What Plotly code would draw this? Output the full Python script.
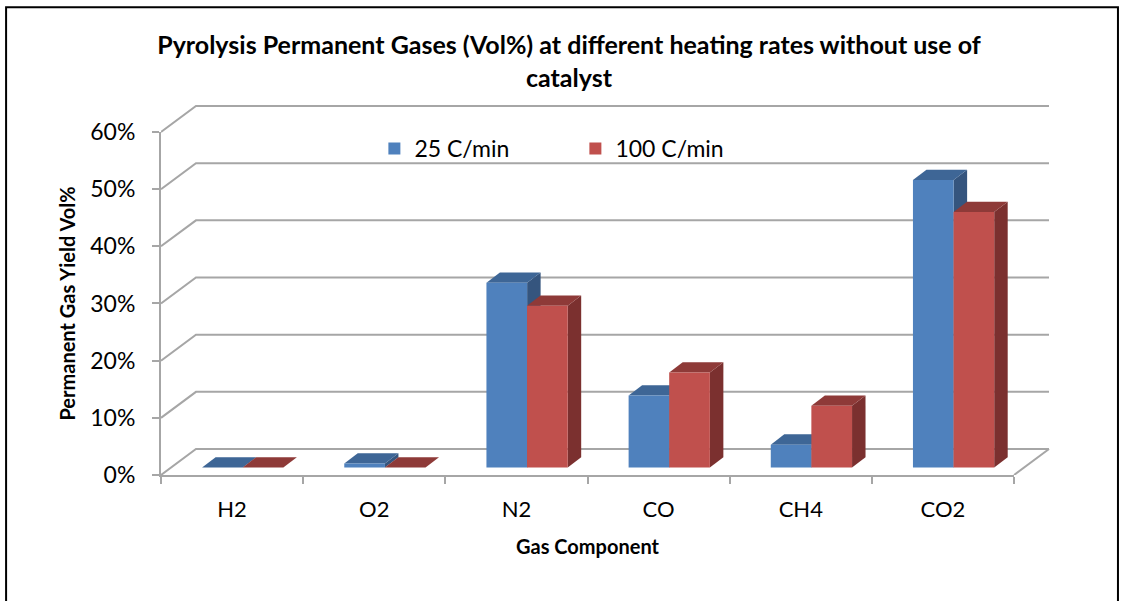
import plotly.graph_objects as go

categories = ["H2", "O2", "N2", "CO", "CH4", "CO2"]
rate_25 = [0.0, 0.007, 0.323, 0.126, 0.040, 0.503]
rate_100 = [0.0, 0.0, 0.283, 0.166, 0.108, 0.447]
y_ticks = [0, 0.1, 0.2, 0.3, 0.4, 0.5, 0.6]

W, H = 1123, 601
L, R, T, B = 160.5, 1014.0, 132.0, 475.5   # front plane of the chart
OUT_R, OUT_T = 1054.0, 101.0               # plot area including the back wall
ux = (R - L) / 6            # pixels per category
uy = (B - T) / 0.6          # pixels per unit of value
bar_w = 40.7 / ux
bar_off = [-30.0 / ux, 10.6 / ux]
lift = 7.5 / uy             # bars stand slightly behind the front plane
bar_dx, bar_dy = 13.5 / ux, 10.3 / uy    # depth of a bar
wall_dx, wall_dy = 35.0 / ux, 26.0 / uy  # depth of the floor

GRID = "#a6a6a6"
FONT = "Lato"
fig = go.Figure()

# back wall and left wall lines, on the wide hidden axes
for t in y_ticks:
    fig.add_trace(go.Scatter(
        x=[-0.5, -0.5 + wall_dx, 5.5 + wall_dx], y=[t, t + wall_dy, t + wall_dy],
        mode="lines", line=dict(color=GRID, width=2), hoverinfo="skip", showlegend=False))
fig.add_trace(go.Scatter(
    x=[5.5, 5.5 + wall_dx], y=[0, wall_dy], mode="lines",
    line=dict(color=GRID, width=2), hoverinfo="skip", showlegend=False))

def faces(values, k, top_col, side_col):
    for i, v in enumerate(values):
        x0 = i + bar_off[k]
        x1 = x0 + bar_w
        y0, y1 = lift, lift + v
        fig.add_trace(go.Scatter(
            x=[x1, x1 + bar_dx, x1 + bar_dx, x1, x1],
            y=[y0, y0 + bar_dy, y1 + bar_dy, y1, y0],
            mode="lines", fill="toself", fillcolor=side_col, line=dict(width=0),
            hoverinfo="skip", showlegend=False))
        fig.add_trace(go.Scatter(
            x=[x0, x0 + bar_dx, x1 + bar_dx, x1, x0],
            y=[y1, y1 + bar_dy, y1 + bar_dy, y1, y1],
            mode="lines", fill="toself", fillcolor=top_col, line=dict(width=0),
            hoverinfo="skip", showlegend=False))

faces(rate_25, 0, "#3e6696", "#35557e")
faces(rate_100, 1, "#8e3a38", "#7b302f")

# front faces, on the visible category axes drawn above the depth faces
for name, vals, k, col in [("25 C/min", rate_25, 0, "#4f81bd"), ("100 C/min", rate_100, 1, "#c0504d")]:
    fig.add_trace(go.Bar(
        name=name, x=categories, y=vals, base=lift, xaxis="x2", yaxis="y2",
        width=bar_w, offset=bar_off[k], marker=dict(color=col, line=dict(width=0))))

pw, ph = OUT_R - L, B - OUT_T
def px(x):
    return (x - L) / pw
def py(y):
    return (B - y) / ph

fig.update_layout(
    width=W, height=H,
    margin=dict(l=L, r=W - OUT_R, t=OUT_T, b=H - B, pad=0),
    paper_bgcolor="white", plot_bgcolor="rgba(0,0,0,0)",
    font=dict(family=FONT, color="black"),
    barmode="overlay",
    title=dict(
        text="<b>Pyrolysis Permanent Gases (Vol%) at different heating rates without use of<br>catalyst</b>",
        xref="container", yref="container", x=569 / W, xanchor="center",
        y=1 - 54 / H, yanchor="top", font=dict(size=25, family=FONT, color="black")),
    # hidden axes that reach the back wall
    xaxis=dict(domain=[0, 1], range=[-0.5, -0.5 + pw / ux], visible=False, fixedrange=True),
    yaxis=dict(domain=[0, 1], range=[0, ph / uy], visible=False, fixedrange=True),
    # visible axes on the front plane
    xaxis2=dict(
        domain=[0, px(R)], anchor="y2", type="category",
        categoryorder="array", categoryarray=categories, range=[-0.5, 5.5],
        tickson="boundaries", ticks="outside", ticklen=7, tickwidth=2, tickcolor=GRID,
        showline=True, linecolor=GRID, linewidth=2, showgrid=False,
        ticklabelstandoff=14, tickfont=dict(size=22, family=FONT),
        title=dict(text="<b>Gas Component</b>", font=dict(size=20, family=FONT), standoff=19)),
    yaxis2=dict(
        domain=[0, py(T)], anchor="x2",
        range=[0, 0.6], tickvals=y_ticks, tickformat=".0%", ticks="outside", ticklen=7,
        tickwidth=2, tickcolor=GRID, showline=True, linecolor=GRID, linewidth=2,
        showgrid=False, zeroline=False, ticklabelstandoff=12,
        tickfont=dict(size=23, family=FONT),
        title=dict(text="<b>Permanent Gas Yield Vol%</b>", font=dict(size=20, family=FONT), standoff=9)),
    legend=dict(
        orientation="h", x=px(374), xanchor="left", y=py(127), yanchor="top",
        bgcolor="rgba(0,0,0,0)", font=dict(size=23, family=FONT),
        entrywidth=156, entrywidthmode="pixels", traceorder="normal",
        itemwidth=30),
    shapes=[dict(type="rect", xref="paper", yref="paper",
                 x0=px(5.5), x1=px(1118), y0=py(606), y1=py(7),
                 line=dict(color="black", width=2), fillcolor="rgba(0,0,0,0)")],
)
fig.write_html("out.html", post_script="document.body.style.margin='0';",
               config={"displayModeBar": False})
